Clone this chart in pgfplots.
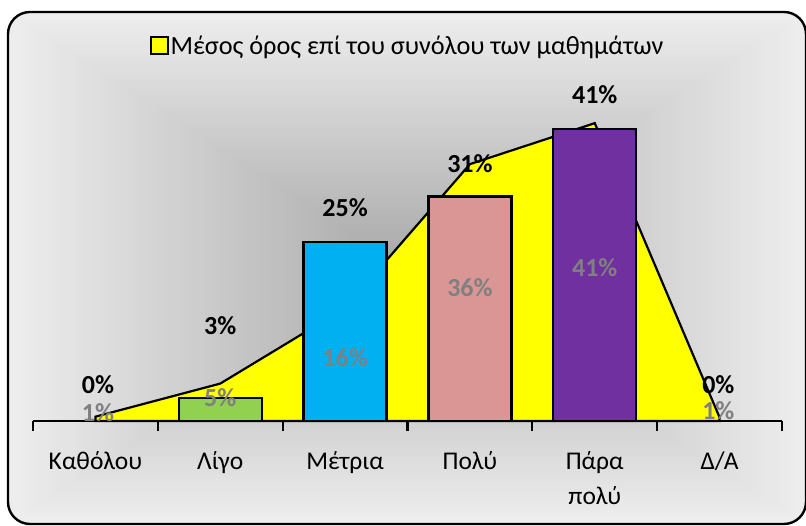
\documentclass[border=0pt]{standalone}
\usepackage{pgfplots}
\pgfplotsset{compat=1.18}
\usepackage{fontspec}
\setmainfont{Carlito}
\definecolor{barGreen}{HTML}{92D050}
\definecolor{barBlue}{HTML}{00B0F0}
\definecolor{barPink}{HTML}{DA9694}
\definecolor{barPurple}{HTML}{7030A0}
\definecolor{lblGray}{HTML}{808080}
\definecolor{areaYellow}{HTML}{FFFF00}
\begin{document}
\begin{tikzpicture}[x=1pt,y=1pt]
\useasboundingbox (0,0) rectangle (806,526);
% background: rectangular gradient from the centre
\begin{scope}
\clip[rounded corners=22pt] (8,2) rectangle (806,514);
\foreach \i in {0,...,89}{
  \pgfmathsetmacro\t{1-\i/90}
  \pgfmathtruncatemacro\c{168+74*\t}
  \definecolor{bgc}{RGB}{\c,\c,\c}
  \fill[bgc] ({407-420*\t},{258-270*\t}) rectangle ({407+420*\t},{258+270*\t});
}
\end{scope}
\draw[line width=2.4pt, rounded corners=22pt] (8,2) rectangle (806,514);
\begin{axis}[
  at={(33pt,105pt)}, anchor=south west,
  scale only axis, width=749pt, height=341pt,
  xmin=-0.5, xmax=5.5, ymin=0, ymax=47.4,
  axis x line*=bottom, axis y line=none,
  x axis line style={line width=2.2pt, black},
  xtick={0,1,2,3,4,5},
  xticklabels={Καθόλου,Λίγο,Μέτρια,Πολύ,Πάρα\\πολύ,Δ/Α},
  minor xtick={-0.5,0.5,1.5,2.5,3.5,4.5,5.5},
  major tick length=0pt, minor tick length=10pt,
  tick align=outside,
  minor tick style={line width=2.2pt, black},
  xticklabel style={font=\fontsize{25.5}{35}\selectfont, align=center, text=black, yshift=-27pt},
  ytick=\empty,
  clip=false,
  /pgf/number format/assume math mode=true,
  legend style={at={(0.5,1.10)}, anchor=center, draw=none, fill=none,
    font=\fontsize{26.3}{30}\selectfont, inner sep=0pt,
    legend cell align=left},
  legend image code/.code={\draw[fill=areaYellow, draw=black, line width=2pt] (0pt,-8.5pt) rectangle (17pt,8.5pt);},
]
% series 2: average over all subjects (area)
\addplot[fill=areaYellow, draw=black, line width=2.2pt] coordinates {
  (0,0.6) (1,5.2) (2,15.7) (3,35.7) (4,41.4) (5,0.5)
} \closedcycle;
\addlegendentry{Μέσος όρος επί του συνόλου των μαθημάτων}
% series 1: bars
\addplot[ybar, bar width=0.665, bar shift=0pt, fill=black, draw=black, line width=2.2pt, forget plot] coordinates {(0,0)};
\addplot[ybar, bar width=0.665, bar shift=0pt, fill=barGreen, draw=black, line width=2.2pt, forget plot] coordinates {(1,3.2)};
\addplot[ybar, bar width=0.665, bar shift=0pt, fill=barBlue, draw=black, line width=2.2pt, forget plot] coordinates {(2,24.9)};
\addplot[ybar, bar width=0.665, bar shift=0pt, fill=barPink, draw=black, line width=2.2pt, forget plot] coordinates {(3,31.2)};
\addplot[ybar, bar width=0.665, bar shift=0pt, fill=barPurple, draw=black, line width=2.2pt, forget plot] coordinates {(4,40.6)};
\addplot[ybar, bar width=0.665, bar shift=0pt, fill=black, draw=black, line width=2.2pt, forget plot] coordinates {(5,0)};
% labels of bars (black)
\addplot[draw=none, mark=none, forget plot, point meta=explicit,
  nodes near coords={\pgfmathprintnumber{\pgfplotspointmeta}\%},
  nodes near coords style={anchor=center, font=\fontsize{26}{30}\selectfont\bfseries, text=black}]
  table[x=x, y=y, meta=v] {
x y v
0.02 5.0 0
1 13.3 3
2 29.7 25
3 35.8 31
4 45.3 41
4.99 5.0 0
};
% labels of area (gray)
\addplot[draw=none, mark=none, forget plot, point meta=explicit,
  nodes near coords={\pgfmathprintnumber{\pgfplotspointmeta}\%},
  nodes near coords style={anchor=center, font=\fontsize{26}{30}\selectfont\bfseries, text=lblGray}]
  table[x=x, y=y, meta=v] {
x y v
0.02 1.1 1
1 3.3 5
2 8.75 16
3 18.5 36
4 21.25 41
4.99 1.5 1
};
\end{axis}
\end{tikzpicture}
\end{document}
